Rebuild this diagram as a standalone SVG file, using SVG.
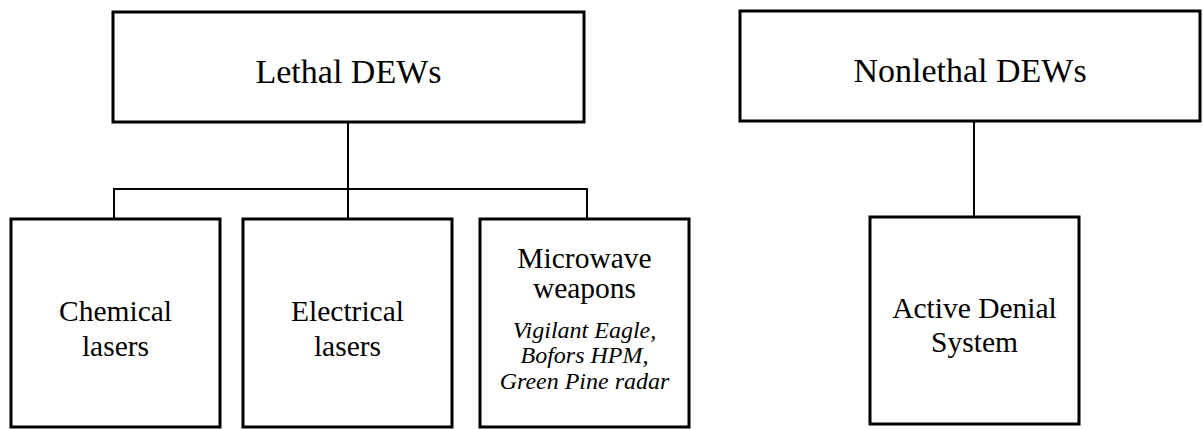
<svg xmlns="http://www.w3.org/2000/svg" width="1203" height="429" viewBox="0 0 1203 429">
  <style>
    .box { fill: #ffffff; stroke: #000000; stroke-width: 3; }
    .conn { fill: none; stroke: #000000; stroke-width: 2; }
    text { font-family: 'Liberation Serif', 'Times New Roman', Times, serif; fill: #000000; text-anchor: middle; }
    .big { font-size: 34px; }
    .mid { font-size: 29.5px; }
    .it { font-size: 24px; font-style: italic; }
  </style>
  <rect width="1203" height="429" fill="#ffffff"/>
  <g id="connectors">
    <path class="conn" d="M348,122 V218"/>
    <path class="conn" d="M114,218 V189 H587 V218"/>
    <path class="conn" d="M974,121 V217"/>
  </g>
  <g id="lethal">
    <rect class="box" x="113" y="12" width="471" height="110"/>
    <text class="big" x="348.5" y="83">Lethal DEWs</text>
  </g>
  <g id="chemical">
    <rect class="box" x="11" y="219" width="209" height="208"/>
    <text class="mid" x="115.5" y="321">Chemical</text>
    <text class="mid" x="115.5" y="356">lasers</text>
  </g>
  <g id="electrical">
    <rect class="box" x="243" y="219" width="209" height="208"/>
    <text class="mid" x="347.5" y="321">Electrical</text>
    <text class="mid" x="347.5" y="356">lasers</text>
  </g>
  <g id="microwave">
    <rect class="box" x="480" y="219" width="209" height="208"/>
    <text class="mid" x="584.5" y="268">Microwave</text>
    <text class="mid" x="584.5" y="298">weapons</text>
    <text class="it" x="584.5" y="338">Vigilant Eagle,</text>
    <text class="it" x="584.5" y="363">Bofors HPM,</text>
    <text class="it" x="584.5" y="389">Green Pine radar</text>
  </g>
  <g id="nonlethal">
    <rect class="box" x="740" y="11" width="460" height="110"/>
    <text class="big" x="970" y="82">Nonlethal DEWs</text>
  </g>
  <g id="active">
    <rect class="box" x="870" y="217" width="209" height="207"/>
    <text class="mid" x="974.5" y="318">Active Denial</text>
    <text class="mid" x="974.5" y="352">System</text>
  </g>
</svg>
